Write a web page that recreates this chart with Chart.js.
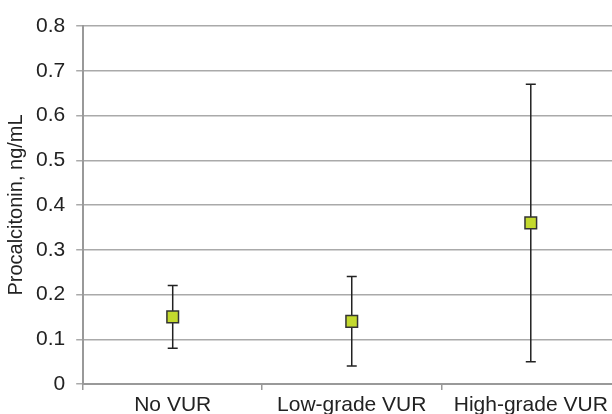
<!DOCTYPE html>
<html>
<head>
<meta charset="utf-8">
<script src="https://cdn.jsdelivr.net/npm/chart.js@4/dist/chart.umd.min.js"></script>
<style>
    html, body { margin: 0; padding: 0; background: #fff; overflow: hidden; }
    #wrap { width: 612px; height: 414px; overflow: hidden; }
</style>
</head>
<body>
<div id="wrap"><canvas id="pctChart" width="630" height="421"></canvas></div>
<script>
// Procalcitonin by VUR grade
const groups = ['No VUR', 'Low-grade VUR', 'High-grade VUR'];
const means = [0.15, 0.14, 0.36];
const lower = [0.08, 0.04, 0.05];
const upper = [0.22, 0.24, 0.67];
const yTicks = [0, 0.1, 0.2, 0.3, 0.4, 0.5, 0.6, 0.7, 0.8];

// whiskers drawn before the markers
const errorBars = {
    id: 'errorBars',
    beforeDatasetsDraw(chart) {
        const ctx = chart.ctx;
        const x = chart.scales.x;
        const y = chart.scales.y;
        ctx.save();
        ctx.strokeStyle = '#222';
        ctx.lineWidth = 1.5;
        groups.forEach((g, i) => {
            const px = x.getPixelForValue(i);
            const top = y.getPixelForValue(upper[i]);
            const bot = y.getPixelForValue(lower[i]);
            ctx.beginPath();
            ctx.moveTo(px, top);
            ctx.lineTo(px, bot);
            ctx.moveTo(px - 5, top);
            ctx.lineTo(px + 5, top);
            ctx.moveTo(px - 5, bot);
            ctx.lineTo(px + 5, bot);
            ctx.stroke();
        });
        ctx.restore();
    }
};

const ctx = document.getElementById('pctChart').getContext('2d');
new Chart(ctx, {
    type: 'line',
    data: {
        labels: groups,
        datasets: [{
            label: 'Procalcitonin',
            data: means,
            showLine: false,
            pointStyle: 'rect',
            pointRadius: 8.2,
            pointHoverRadius: 8.2,
            backgroundColor: '#c3d92e',
            borderColor: '#333',
            pointBorderWidth: 1.5
        }]
    },
    options: {
        responsive: false,
        animation: false,
        layout: { padding: { top: 26, left: 4, right: 0, bottom: 0 } },
        plugins: {
            legend: { display: false },
            tooltip: { enabled: false }
        },
        scales: {
            x: {
                offset: true,
                grid: {
                    offset: true,
                    drawOnChartArea: false,
                    drawTicks: true,
                    tickLength: 6,
                    color: '#999',
                    lineWidth: 1.5
                },
                border: { color: '#999', width: 2 },
                ticks: {
                    color: '#222',
                    padding: 5,
                    font: { family: 'Liberation Sans', size: 21, lineHeight: 1 }
                }
            },
            y: {
                min: 0,
                max: 0.8,
                afterBuildTicks: axis => { axis.ticks = yTicks.map(v => ({ value: v })); },
                grid: {
                    color: '#aaa',
                    lineWidth: 1.5,
                    tickLength: 7
                },
                border: { color: '#999', width: 2 },
                ticks: {
                    color: '#222',
                    padding: 11,
                    font: { family: 'Liberation Sans', size: 21 },
                    callback: v => v === 0 ? '0' : v.toFixed(1)
                },
                title: {
                    display: true,
                    text: 'Procalcitonin, ng/mL',
                    color: '#222',
                    padding: { top: 3, bottom: 0 },
                    font: { family: 'Liberation Sans', size: 20, lineHeight: 0.9 }
                }
            }
        }
    },
    plugins: [errorBars]
});
</script>
</body>
</html>
